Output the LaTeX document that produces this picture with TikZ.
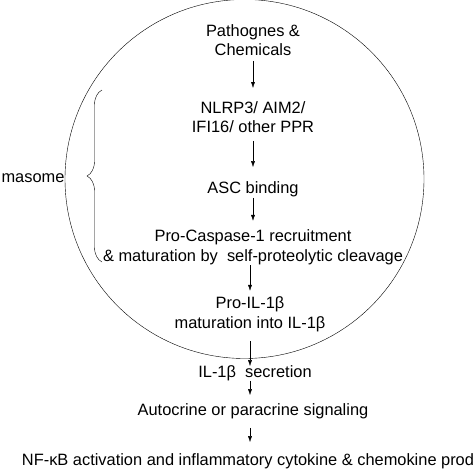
\documentclass[tikz,border=0pt]{standalone}
\usepackage{fontspec}
\setmainfont{Liberation Sans}
\usetikzlibrary{arrows.meta,decorations.pathreplacing}
\begin{document}
\begin{tikzpicture}[x=1pt,y=-1pt,
    every node/.style={align=center,inner sep=0pt,font=\fontsize{16.4}{19.5}\selectfont},
    >={Latex[length=6pt,width=4pt]}]
      \useasboundingbox (0,0) rectangle (474,474);
      \draw (244.5,179) circle (179.5pt);
      \draw
        (253,40) node (0){Pathognes \&\\Chemicals}
        (253,117) node (1){NLRP3/ AIM2/\\IFI16/ other PPR}
        (253,189) node (2){ASC binding}
        (253,247.5) node (3){Pro-Caspase-1 recruitment\\\& maturation by\ \ self-proteolytic cleavage}
        (250,314.5) node (4){Pro-IL-1β\\maturation into IL-1β}
        (255,373) node (5){IL-1β\ \ secretion}
        (253,411) node (6){Autocrine or paracrine signaling}
        (248,461) node (7){NF-κB activation and inflammatory cytokine \& chemokine prod}
        (33,178) node (m){masome};
      \draw[decorate,decoration={brace,amplitude=15pt}] (102,262) -- (102,90);
      \begin{scope}[->]
        \draw[shorten <=5pt,shorten >=13pt] (0) to (1);
        \draw[shorten <=8pt,shorten >=14pt] (1) to (2);
        \draw[shorten <=1pt,shorten >=9pt] (2) to (3);
        \draw[shorten <=0pt,shorten >=6pt] (3.south -| 4) to (4);
        \draw[shorten <=9pt,shorten >=-1pt] (4.south) to (4.south |- 5.north);
        \draw[shorten >=8pt] (4.south |- 5.south) to (4.south |- 6.north);
        \draw[shorten <=9pt,shorten >=11pt] (6.south -| 4) to (4.south |- 7.north);
      \end{scope}
    \end{tikzpicture}
\end{document}
